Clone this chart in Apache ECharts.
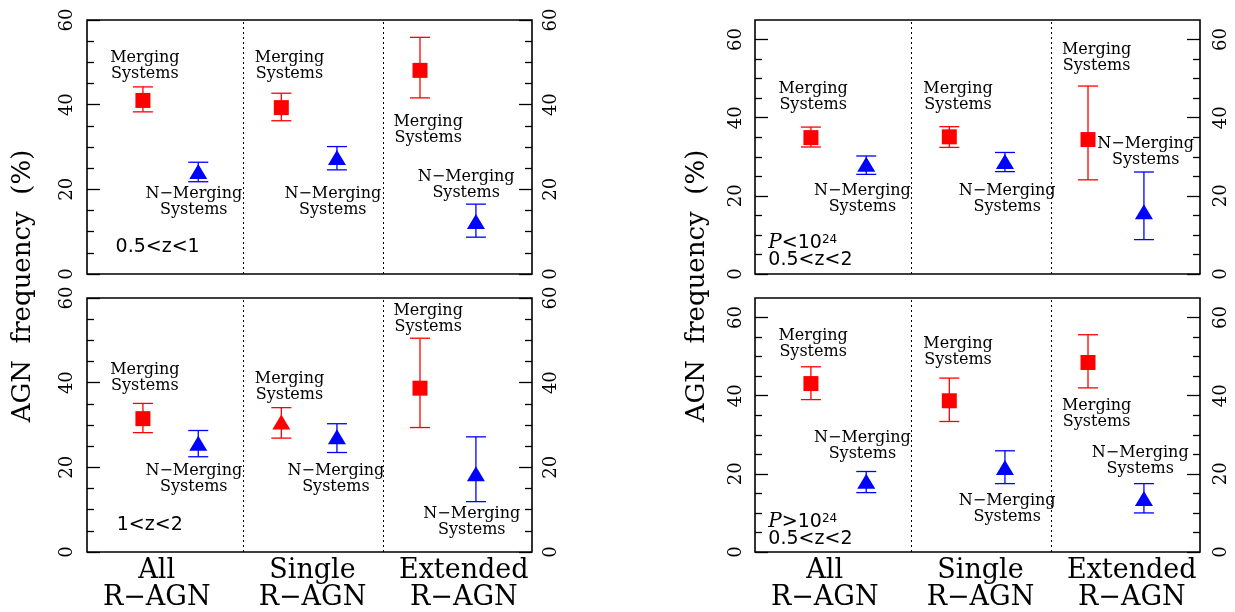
<!DOCTYPE html>
<html>
<head>
<meta charset="utf-8">
<script src="https://cdn.jsdelivr.net/npm/echarts@6/dist/echarts.min.js"></script>
<style>
  html, body { margin: 0; padding: 0; background: #fff; }
  #chart { width: 1235px; height: 612px; }
</style>
</head>
<body>
<div id="chart"></div>
<script>
// Sample groups along the x axis (0..3), one third each
const groupLabels = ['All\nR\u2212AGN', 'Single\nR\u2212AGN', 'Extended\nR\u2212AGN'];
const groupLabelPos = [0.47, 1.52, 2.54];
const groupDividers = [1.047, 2.004];

// horizontal placement of the two populations inside each group
const xMerging = [0.377, 1.31, 2.245];
const xNonMerging = [0.75, 1.685, 2.622];

// y axis: major ticks (labelled) and minor ticks
const yMajor = [0, 20, 40, 60];
const yMinor = [5, 10, 15, 25, 30, 35, 45, 50, 55];

// ---- 0.5<z<1 ----
const mergA = [41.0, 39.3, 48.1];
const mergA_lo = [38.3, 36.2, 41.6];
const mergA_hi = [44.2, 42.7, 55.9];
const nonA = [24.2, 27.5, 12.4];
const nonA_lo = [21.8, 24.6, 8.7];
const nonA_hi = [26.4, 30.1, 16.5];

// ---- 1<z<2 ----
const mergB = [31.5, 30.7, 38.7];
const mergB_lo = [28.2, 26.9, 29.4];
const mergB_hi = [35.1, 34.1, 50.5];
const nonB = [25.7, 27.2, 18.5];
const nonB_lo = [22.5, 23.5, 11.9];
const nonB_hi = [28.7, 30.3, 27.2];

// ---- P<10^24, 0.5<z<2 ----
const mergC = [34.9, 35.1, 34.4];
const mergC_lo = [32.5, 32.4, 24.1];
const mergC_hi = [37.6, 37.7, 48.1];
const nonC = [28.1, 28.8, 15.9];
const nonC_lo = [25.5, 26.2, 8.8];
const nonC_hi = [30.2, 31.1, 26.1];

// ---- P>10^24, 0.5<z<2 ----
const mergD = [43.1, 38.7, 48.5];
const mergD_lo = [39.0, 33.4, 42.0];
const mergD_hi = [47.4, 44.5, 55.6];
const nonD = [18.1, 21.6, 13.7];
const nonD_lo = [15.2, 17.5, 10.0];
const nonD_hi = [20.6, 25.9, 17.5];

// marker shape of the merging points (one per group)
const mergShapeA = ['rect', 'rect', 'rect'];
const mergShapeB = ['rect', 'triangle', 'rect'];
const mergShapeC = ['rect', 'rect', 'rect'];
const mergShapeD = ['rect', 'rect', 'rect'];

// in-panel annotations: [x, y, text]
const M = 'Merging\nSystems';
const N = 'N\u2212Merging\nSystems';
const notesA = [[0.39, 49.2, M], [0.72, 17.0, N], [1.365, 49.2, M], [1.657, 17.0, N], [2.30, 34.1, M], [2.556, 21.1, N]];
const notesB = [[0.39, 41.2, M], [0.72, 17.2, N], [1.365, 39.1, M], [1.678, 17.2, N], [2.30, 55.1, M], [2.594, 7.1, N]];
const notesC = [[0.392, 45.3, M], [0.724, 19.3, N], [1.369, 45.3, M], [1.70, 19.3, N], [2.303, 55.2, M], [2.634, 31.2, N]];
const notesD = [[0.392, 53.3, M], [0.724, 27.1, N], [1.369, 51.2, M], [1.70, 11.1, N], [2.303, 35.3, M], [2.597, 23.2, N]];

const RED = '#ff0000';
const BLUE = '#0000ff';
const SERIF = '"DejaVu Serif", "Liberation Serif", serif';
const SANS = '"DejaVu Sans", "Liberation Sans", sans-serif';

const panels = [
  { grid: { left: 87, top: 20, width: 445, height: 254 }, ymax: 60, bottom: false, margins: [11, 10],
    merg: [mergA, mergA_lo, mergA_hi], non: [nonA, nonA_lo, nonA_hi], shapes: mergShapeA, notes: notesA,
    tag: { x: 0.476, y: 6.4, text: '0.5<z<1', align: 'center' } },
  { grid: { left: 87, top: 298, width: 445, height: 254 }, ymax: 60, bottom: true, margins: [11, 10],
    merg: [mergB, mergB_lo, mergB_hi], non: [nonB, nonB_lo, nonB_hi], shapes: mergShapeB, notes: notesB,
    tag: { x: 0.423, y: 6.3, text: '1<z<2', align: 'center' } },
  { grid: { left: 755, top: 20, width: 445, height: 254 }, ymax: 65, bottom: false, margins: [10, 12],
    merg: [mergC, mergC_lo, mergC_hi], non: [nonC, nonC_lo, nonC_hi], shapes: mergShapeC, notes: notesC,
    tag: { x: 0.09, y: 5.8, text: '{i|P}<10{s|24}\n0.5<z<2', align: 'left' } },
  { grid: { left: 755, top: 298, width: 445, height: 254 }, ymax: 65, bottom: true, margins: [10, 12],
    merg: [mergD, mergD_lo, mergD_hi], non: [nonD, nonD_lo, nonD_hi], shapes: mergShapeD, notes: notesD,
    tag: { x: 0.09, y: 5.55, text: '{i|P}>10{s|24}\n0.5<z<2', align: 'left' } }
];

const grid = [], xAxis = [], yAxis = [], series = [];

function yAxisPair(gi, position, ymax, margin) {
  const base = {
    gridIndex: gi, type: 'value', position: position, min: 0, max: ymax,
    axisLine: { show: false }, splitLine: { show: false }
  };
  const major = Object.assign({}, base, {
    axisTick: { show: true, inside: true, length: 13, customValues: yMajor,
                lineStyle: { color: '#000', width: 1.3 } },
    axisLabel: { show: true, customValues: yMajor, rotate: 90, margin: margin,
                 fontFamily: SERIF, fontSize: 18, color: '#000' }
  });
  const minor = Object.assign({}, base, {
    axisTick: { show: true, inside: true, length: 7, customValues: yMinor,
                lineStyle: { color: '#000', width: 1.3 } },
    axisLabel: { show: false }
  });
  return [major, minor];
}

function errorBars(params, api) {
  const x = api.value(0);
  const top = api.coord([x, api.value(2)]);
  const bot = api.coord([x, api.value(1)]);
  const half = 10;
  const style = { stroke: api.visual('color'), lineWidth: 1.3, fill: null };
  return {
    type: 'group',
    children: [
      { type: 'line', shape: { x1: top[0], y1: top[1], x2: bot[0], y2: bot[1] }, style: style },
      { type: 'line', shape: { x1: top[0] - half, y1: top[1], x2: top[0] + half, y2: top[1] }, style: style },
      { type: 'line', shape: { x1: bot[0] - half, y1: bot[1], x2: bot[0] + half, y2: bot[1] }, style: style }
    ]
  };
}

panels.forEach(function (p, gi) {
  grid.push(Object.assign({
    show: true, borderColor: '#000', borderWidth: 1.6, backgroundColor: 'transparent',
    containLabel: false, outerBoundsMode: 'none'
  }, p.grid));

  xAxis.push({
    gridIndex: gi, type: 'value', min: 0, max: 3, position: 'bottom',
    axisLine: { show: false }, axisTick: { show: false }, splitLine: { show: false },
    axisLabel: p.bottom ? {
      show: true, customValues: groupLabelPos, margin: 5,
      fontFamily: SERIF, fontSize: 27, lineHeight: 27, color: '#000',
      formatter: function (v) {
        let best = 0;
        groupLabelPos.forEach(function (q, i) { if (Math.abs(q - v) < Math.abs(groupLabelPos[best] - v)) best = i; });
        return groupLabels[best];
      }
    } : { show: false }
  });

  const yi = yAxis.length;
  yAxisPair(gi, 'left', p.ymax, p.margins[0]).forEach(function (a) { yAxis.push(a); });
  yAxisPair(gi, 'right', p.ymax, p.margins[1]).forEach(function (a) { yAxis.push(a); });

  const mergBars = xMerging.map(function (x, i) { return [x, p.merg[1][i], p.merg[2][i]]; });
  const nonBars = xNonMerging.map(function (x, i) { return [x, p.non[1][i], p.non[2][i]]; });

  series.push({
    type: 'custom', xAxisIndex: gi, yAxisIndex: yi, renderItem: errorBars,
    encode: { x: 0, y: [1, 2] }, data: mergBars, itemStyle: { color: RED }, silent: true, z: 2
  });
  series.push({
    type: 'custom', xAxisIndex: gi, yAxisIndex: yi, renderItem: errorBars,
    encode: { x: 0, y: [1, 2] }, data: nonBars, itemStyle: { color: BLUE }, silent: true, z: 2
  });

  series.push({
    type: 'scatter', xAxisIndex: gi, yAxisIndex: yi, silent: true, z: 3,
    data: xMerging.map(function (x, i) {
      const tri = p.shapes[i] === 'triangle';
      return { value: [x, p.merg[0][i]], symbol: p.shapes[i], symbolSize: tri ? [18, 15] : [15, 15] };
    }),
    itemStyle: { color: RED, opacity: 1 },
    markLine: {
      silent: true, symbol: 'none', label: { show: false },
      lineStyle: { color: '#000', type: [2, 3], width: 1 },
      data: groupDividers.map(function (d) { return { xAxis: d }; })
    }
  });
  series.push({
    type: 'scatter', xAxisIndex: gi, yAxisIndex: yi, silent: true, z: 3,
    symbol: 'triangle', symbolSize: [18, 15],
    data: xNonMerging.map(function (x, i) { return [x, p.non[0][i]]; }),
    itemStyle: { color: BLUE, opacity: 1 }
  });

  // text annotations
  const notes = p.notes;
  series.push({
    type: 'custom', xAxisIndex: gi, yAxisIndex: yi, silent: true, z: 4,
    data: notes.map(function (n) { return [n[0], n[1]]; }),
    encode: { x: 0, y: 1 },
    renderItem: function (params, api) {
      const pt = api.coord([api.value(0), api.value(1)]);
      return {
        type: 'text', x: pt[0], y: pt[1],
        style: {
          text: notes[params.dataIndex][2], font: '16px ' + SERIF, fill: '#000',
          align: 'center', verticalAlign: 'middle', textAlign: 'center', textVerticalAlign: 'middle',
          lineHeight: 16
        }
      };
    }
  });
  const tag = p.tag;
  series.push({
    type: 'custom', xAxisIndex: gi, yAxisIndex: yi, silent: true, z: 4,
    data: [[tag.x, tag.y]], encode: { x: 0, y: 1 },
    renderItem: function (params, api) {
      const pt = api.coord([api.value(0), api.value(1)]);
      return {
        type: 'text', x: pt[0], y: pt[1],
        style: {
          text: tag.text, font: '19px ' + SANS, fill: '#000', lineHeight: 17,
          align: tag.align, verticalAlign: 'middle', textAlign: tag.align, textVerticalAlign: 'middle',
          rich: {
            i: { fontStyle: 'italic', fontFamily: SERIF, fontSize: 20, lineHeight: 17 },
            s: { fontFamily: SANS, fontSize: 12, lineHeight: 17, verticalAlign: 'top', padding: [0, 0, 6, 0] }
          }
        }
      };
    }
  });
});

const titleStyle = {
  text: 'AGN  frequency  (%)', font: '26px ' + SERIF, fill: '#000',
  align: 'center', verticalAlign: 'middle', textAlign: 'center', textVerticalAlign: 'middle'
};

const chart = echarts.init(document.getElementById('chart'), null, { renderer: 'canvas' });
chart.setOption({
  animation: false,
  backgroundColor: '#fff',
  grid: grid,
  xAxis: xAxis,
  yAxis: yAxis,
  series: series,
  graphic: [
    { type: 'text', x: 23, y: 286, rotation: Math.PI / 2, style: Object.assign({}, titleStyle) },
    { type: 'text', x: 697, y: 286, rotation: Math.PI / 2, style: Object.assign({}, titleStyle) }
  ]
});
</script>
</body>
</html>
